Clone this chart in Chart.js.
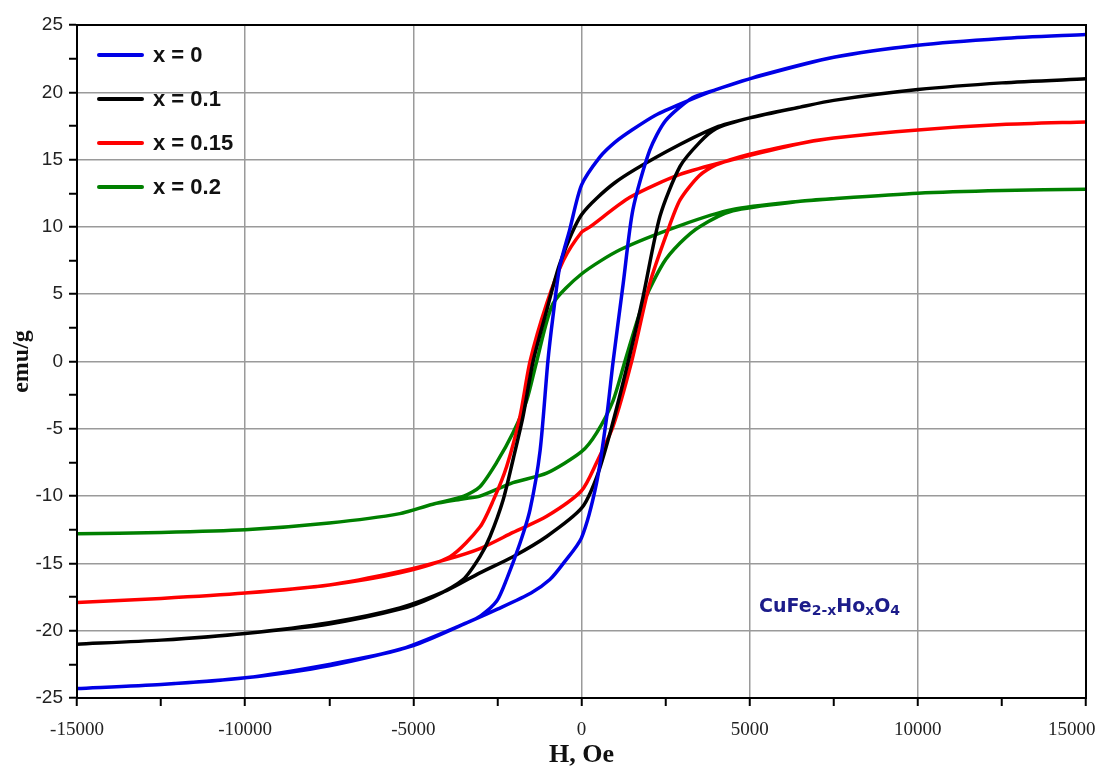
<!DOCTYPE html>
<html>
<head>
<meta charset="utf-8">
<script src="https://cdn.jsdelivr.net/npm/chart.js@4.4.1/dist/chart.umd.min.js"></script>
<style>
  body { margin: 0; background: #fff; }
  #wrap { width: 1104px; height: 767px; }
</style>
</head>
<body>
<div id="wrap"><canvas id="hyst" width="1104" height="767"></canvas></div>
<script>
// compositions
const labels = ['x = 0', 'x = 0.1', 'x = 0.15', 'x = 0.2']
const colors = ['#0000e6', '#000000', '#ff0000', '#008000']

// x = 0 : descending branch (H from +15000 to -15000), then ascending branch
const hDown0 = [15000, 12500, 10000, 7500, 5000, 4000, 3000, 2200, 1500, 1000, 550, 0, -350, -650, -850, -1000, -1230, -1530, -1830, -2230, -2520, -3000, -3400, -5400, -7500, -10000, -12500, -15000]
const mDown0 = [24.3, 24.0, 23.5, 22.6, 21.0, 20.2, 19.2, 18.3, 17.2, 16.3, 15.2, 13.1, 9.8, 7.0, 3.3, 0, -6.6, -11.0, -13.5, -16.2, -17.8, -18.9, -19.4, -21.4, -22.5, -23.5, -24.0, -24.3]
const hUp0 = [-15000, -12500, -10000, -7500, -5000, -3400, -2500, -1500, -940, -540, 0, 450, 750, 940, 1240, 1530, 2030, 2500, 3300, 4000, 5400, 7500, 10000, 12500, 15000]
const mUp0 = [-24.3, -24.0, -23.5, -22.6, -21.1, -19.4, -18.4, -17.2, -16.2, -15.0, -13.1, -9.0, -4.1, 0, 5.8, 11.3, 15.7, 17.9, 19.6, 20.2, 21.3, 22.6, 23.5, 24.0, 24.3]

// x = 0.1
const hDown1 = [15000, 12500, 10000, 7500, 6500, 5000, 4000, 2530, 1000, 0, -640, -1035, -1440, -1740, -2036, -2333, -2720, -3020, -3520, -4420, -5400, -7500, -10000, -12500, -15000]
const mDown1 = [21.0, 20.7, 20.2, 19.4, 18.9, 18.1, 17.4, 15.6, 13.3, 10.9, 7.3, 3.8, 0, -4.1, -7.3, -10.3, -13.0, -14.5, -16.2, -17.5, -18.4, -19.5, -20.2, -20.7, -21.0]
const hUp1 = [-15000, -12500, -10000, -7500, -5400, -4000, -3020, -2036, -1035, 0, 450, 850, 1390, 1830, 2334, 2930, 3520, 4000, 5000, 6500, 7500, 10000, 12500, 15000]
const mUp1 = [-21.0, -20.7, -20.2, -19.4, -18.3, -17.0, -15.7, -14.5, -13.0, -10.9, -8.6, -5.3, 0, 4.8, 10.8, 14.5, 16.3, 17.3, 18.1, 18.9, 19.4, 20.2, 20.7, 21.0]

// x = 0.15
const hDown2 = [15000, 12500, 10000, 7500, 6500, 4500, 2930, 1440, 250, 0, -540, -1035, -1530, -1830, -2225, -2620, -3020, -3910, -5400, -7500, -10000, -12500, -15000]
const mDown2 = [17.8, 17.6, 17.2, 16.6, 16.2, 15.0, 13.9, 12.2, 10.0, 9.6, 7.5, 4.3, 0, -4.1, -7.8, -10.3, -12.3, -14.5, -15.7, -16.6, -17.2, -17.6, -17.9]
const hUp2 = [-15000, -12500, -10000, -7500, -5400, -4000, -3020, -2036, -1035, 0, 450, 940, 1490, 2030, 2533, 2930, 3500, 4000, 5000, 6500, 7500, 10000, 12500, 15000]
const mUp2 = [-17.9, -17.6, -17.2, -16.6, -15.6, -14.7, -13.9, -12.7, -11.5, -9.6, -7.5, -4.8, 0, 5.8, 9.5, 12.0, 13.8, 14.6, 15.4, 16.2, 16.6, 17.2, 17.6, 17.8]

// x = 0.2
const hDown3 = [15000, 12500, 10000, 7500, 6500, 4500, 2930, 1145, 0, -846, -1333, -1630, -2036, -2522, -3020, -3500, -4420, -5400, -7500, -10000, -12500, -15000]
const mDown3 = [12.8, 12.7, 12.5, 12.1, 11.9, 11.3, 10.1, 8.3, 6.5, 4.3, 0, -2.9, -5.3, -7.5, -9.3, -10.0, -10.6, -11.3, -12.0, -12.5, -12.7, -12.8]
const hUp3 = [-15000, -12500, -10000, -7500, -5400, -4420, -3500, -3020, -2036, -1035, 0, 450, 940, 1290, 1830, 2430, 2930, 3500, 4500, 6500, 7500, 10000, 12500, 15000]
const mUp3 = [-12.8, -12.7, -12.5, -12.0, -11.3, -10.6, -10.2, -10.0, -9.0, -8.3, -6.7, -5.3, -2.9, 0, 4.3, 7.3, 8.8, 10.0, 11.2, 11.9, 12.1, 12.5, 12.7, 12.8]

// axis ranges
const hMin = -15000, hMax = 15000, hStep = 2500, hLabelStep = 5000
const mMin = -25, mMax = 25, mStep = 2.5, mLabelStep = 5

const branches = [
    [hDown0, mDown0, hUp0, mUp0],
    [hDown1, mDown1, hUp1, mUp1],
    [hDown2, mDown2, hUp2, mUp2],
    [hDown3, mDown3, hUp3, mUp3]
]

function toPoints(h, m) {
    return h.map((v, i) => ({x: v, y: m[i]}))
}

const datasets = branches.map((b, i) => ({
    label: labels[i],
    data: toPoints(b[0], b[1]).concat(toPoints(b[2], b[3])),
    borderColor: colors[i],
    backgroundColor: colors[i],
    borderWidth: 3.5,
    pointRadius: 0,
    tension: 0.25,
    fill: false
}))

// frame, legend box and formula label drawn on top of the plot
const extras = {
    id: 'extras',
    afterDatasetsDraw(chart) {
        const {ctx, chartArea: a, scales} = chart
        ctx.save()
        ctx.strokeStyle = '#000'
        ctx.lineWidth = 2
        ctx.strokeRect(a.left, a.top, a.right - a.left, a.bottom - a.top)

        // legend
        ctx.font = 'bold 22px Arial, "Liberation Sans", sans-serif'
        ctx.textBaseline = 'middle'
        ctx.lineCap = 'round'
        chart.data.datasets.forEach((ds, i) => {
            const y = a.top + 30 + i * 44
            ctx.strokeStyle = ds.borderColor
            ctx.lineWidth = 4
            ctx.beginPath()
            ctx.moveTo(a.left + 22, y)
            ctx.lineTo(a.left + 65, y)
            ctx.stroke()
            ctx.fillStyle = '#111'
            ctx.fillText(ds.label, a.left + 76, y + 1)
        })

        // CuFe(2-x)Ho(x)O(4)
        const parts = [['CuFe', 0], ['2-x', 1], ['Ho', 0], ['x', 1], ['O', 0], ['4', 1]]
        let x = scales.x.getPixelForValue(5280)
        const y = scales.y.getPixelForValue(-18.6)
        ctx.textBaseline = 'alphabetic'
        ctx.fillStyle = '#1c1c8a'
        parts.forEach(([t, sub]) => {
            ctx.font = sub ? 'bold 14px "DejaVu Sans", sans-serif' : 'bold 19px "DejaVu Sans", sans-serif'
            ctx.fillText(t, x, sub ? y + 3 : y)
            x += ctx.measureText(t).width
        })
        ctx.restore()
    }
}

const gridColor = (step) => (c) => (c.tick && c.tick.value % step === 0) ? '#9a9a9a' : 'rgba(0,0,0,0)'

// last x label is pulled in so it stays on the canvas
function hLabel(v) {
    if (v % hLabelStep !== 0) return ''
    return v === hMax ? String(v) + '\u2007\u2007\u2007' : String(v)
}

new Chart(document.getElementById('hyst'), {
    type: 'line',
    data: { datasets: datasets },
    options: {
        responsive: false,
        devicePixelRatio: 1,
        animation: false,
        layout: { padding: { left: 0, right: 18, top: 25, bottom: 0 } },
        plugins: {
            legend: { display: false },
            tooltip: { enabled: false }
        },
        scales: {
            x: {
                type: 'linear',
                min: hMin,
                max: hMax,
                afterFit: (scale) => {
                    scale.height = 69
                    scale.paddingLeft = 0
                    scale.paddingRight = 0
                },
                ticks: {
                    stepSize: hStep,
                    autoSkip: false,
                    maxRotation: 0,
                    padding: 13,
                    color: '#222',
                    font: { family: '"Times New Roman", "Liberation Serif", serif', size: 19 },
                    callback: hLabel
                },
                grid: {
                    color: gridColor(hLabelStep),
                    lineWidth: 1.5,
                    tickColor: '#000',
                    tickWidth: 2,
                    tickLength: 8
                },
                border: { color: '#000', width: 2 },
                title: {
                    display: true,
                    text: 'H, Oe',
                    color: '#111',
                    padding: 0,
                    font: { family: '"Times New Roman", "Liberation Serif", serif', size: 26, weight: 'bold', lineHeight: 0.9 }
                }
            },
            y: {
                min: mMin,
                max: mMax,
                afterFit: (scale) => { scale.width = 77 },
                ticks: {
                    stepSize: mStep,
                    autoSkip: false,
                    padding: 6,
                    color: '#222',
                    font: { family: 'Arial, "Liberation Sans", sans-serif', size: 19 },
                    callback: (v) => v % mLabelStep === 0 ? String(v) : ''
                },
                grid: {
                    color: gridColor(mLabelStep),
                    lineWidth: 1.5,
                    tickColor: '#000',
                    tickWidth: 2,
                    tickLength: 8
                },
                border: { color: '#000', width: 2 },
                title: {
                    display: true,
                    text: 'emu/g',
                    color: '#111',
                    padding: { top: 7, bottom: 0 },
                    font: { family: '"Times New Roman", "Liberation Serif", serif', size: 24, weight: 'bold' }
                }
            }
        }
    },
    plugins: [extras]
})
</script>
</body>
</html>
